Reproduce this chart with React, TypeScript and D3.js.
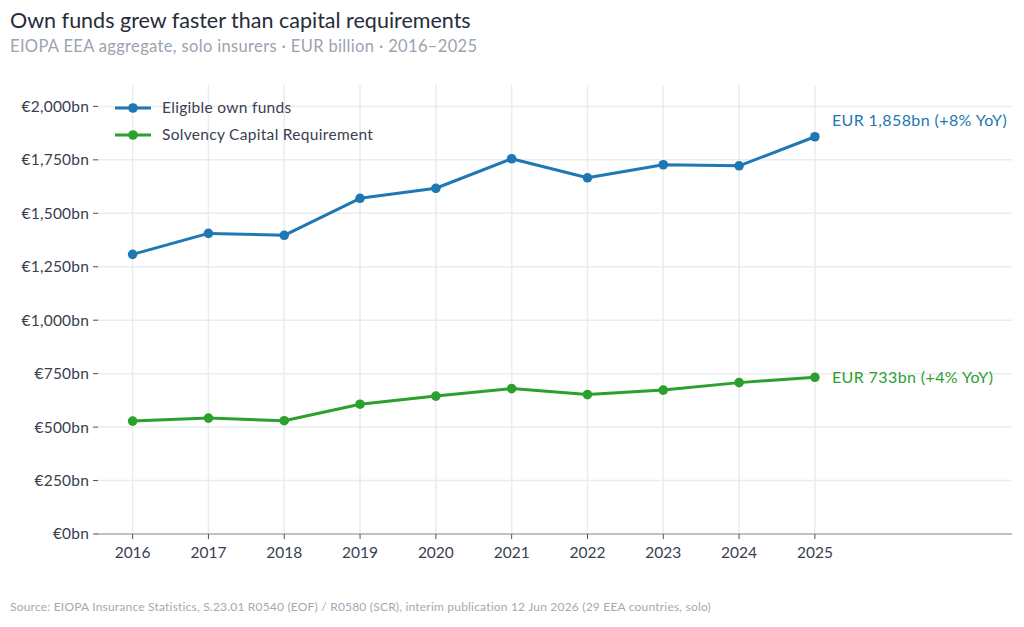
import React from 'react';
import * as d3 from 'd3';

const years = [2016, 2017, 2018, 2019, 2020, 2021, 2022, 2023, 2024, 2025];
const ownFunds = [1308, 1406, 1397, 1570, 1617, 1755, 1666, 1727, 1722, 1858];
const scr = [528, 542, 530, 607, 645, 680, 652, 673, 708, 733];
const yTicks = [0, 250, 500, 750, 1000, 1250, 1500, 1750, 2000];

const W = 1024;
const H = 627;
const FONT = "Futura, 'Century Gothic', Lato, 'DejaVu Sans', sans-serif";
const BLUE = '#1f77b4';
const GREEN = '#2ca02c';

const App = () => {
  // x domain extends past 2025 to leave room for end labels
  const x = d3.scaleLinear().domain([2015.53, 2027.6]).range([97, 1012]);
  const y = d3.scaleLinear().domain([0, 2100]).range([534, 85]);

  const line = d3
    .line<number>()
    .x((d, i) => x(years[i]))
    .y((d) => y(d));

  const fmt = d3.format(',');

  const series = [
    { name: 'Eligible own funds', values: ownFunds, color: BLUE },
    { name: 'Solvency Capital Requirement', values: scr, color: GREEN },
  ];

  const last = (a: number[]) => a[a.length - 1];
  const yoy = (a: number[]) => Math.round((last(a) / a[a.length - 2] - 1) * 100);

  return (
    <svg width={W} height={H} style={{ position: 'absolute', left: 0, top: 0 }} fontFamily={FONT}>
      <rect width={W} height={H} fill="#fff" />

      {/* grid */}
      {yTicks.map((t) => (
        <line key={'gy' + t} x1={97} x2={1012} y1={y(t)} y2={y(t)} stroke="#e9ecf0" strokeWidth={1.5} />
      ))}
      {years.map((yr) => (
        <line key={'gx' + yr} x1={x(yr)} x2={x(yr)} y1={85} y2={534} stroke="#e9ecf0" strokeWidth={1.5} />
      ))}

      {/* axes */}
      <line x1={97} x2={1012} y1={534} y2={534} stroke="#8a93a3" strokeWidth={1} />
      {yTicks.map((t) => (
        <g key={'ty' + t}>
          <line x1={93} x2={98} y1={y(t)} y2={y(t)} stroke="#4a5060" strokeWidth={1} />
          <text x={89} y={y(t)} dy="0.35em" textAnchor="end" fontSize={15.5} letterSpacing={0.2} fill="#3a4050">
            {'€' + fmt(t) + 'bn'}
          </text>
        </g>
      ))}
      {years.map((yr) => (
        <g key={'tx' + yr}>
          <line x1={x(yr)} x2={x(yr)} y1={534} y2={539} stroke="#4a5060" strokeWidth={1} />
          <text x={x(yr)} y={558} textAnchor="middle" fontSize={15.5} fill="#3a4050">
            {yr}
          </text>
        </g>
      ))}

      {/* series */}
      {series.map((s) => (
        <g key={s.name}>
          <path d={line(s.values) || ''} fill="none" stroke={s.color} strokeWidth={3} strokeLinejoin="round" />
          {s.values.map((v, i) => (
            <circle key={i} cx={x(years[i])} cy={y(v)} r={4.8} fill={s.color} />
          ))}
          <text
            x={x(2025) + 17}
            y={y(last(s.values))}
            dy={s === series[0] ? '-0.65em' : '0.35em'}
            fontSize={16}
            letterSpacing={0.4}
            fill={s.color}
          >
            {`EUR ${fmt(last(s.values))}bn (+${yoy(s.values)}% YoY)`}
          </text>
        </g>
      ))}

      {/* legend */}
      {series.map((s, i) => (
        <g key={'lg' + s.name} transform={`translate(0, ${108 + i * 27})`}>
          <line x1={115} x2={151} y1={0} y2={0} stroke={s.color} strokeWidth={3} />
          <circle cx={133} cy={0} r={4.8} fill={s.color} />
          <text x={162} y={0} dy="0.35em" fontSize={15.5} letterSpacing={0.3} fill="#3a4050">
            {s.name}
          </text>
        </g>
      ))}

      {/* titles */}
      <text x={10} y={28} fontSize={21.5} fill="#262c3a">
        Own funds grew faster than capital requirements
      </text>
      <text x={10} y={52} fontSize={16.5} letterSpacing={0.35} fill="#9aa3b0">
        EIOPA EEA aggregate, solo insurers · EUR billion · 2016–2025
      </text>
      <text x={10} y={611} fontSize={12} letterSpacing={0.2} fill="#a3a9b3">
        Source: EIOPA Insurance Statistics, S.23.01 R0540 (EOF) / R0580 (SCR), interim publication 12 Jun 2026 (29 EEA countries, solo)
      </text>
    </svg>
  );
};

export default App;
